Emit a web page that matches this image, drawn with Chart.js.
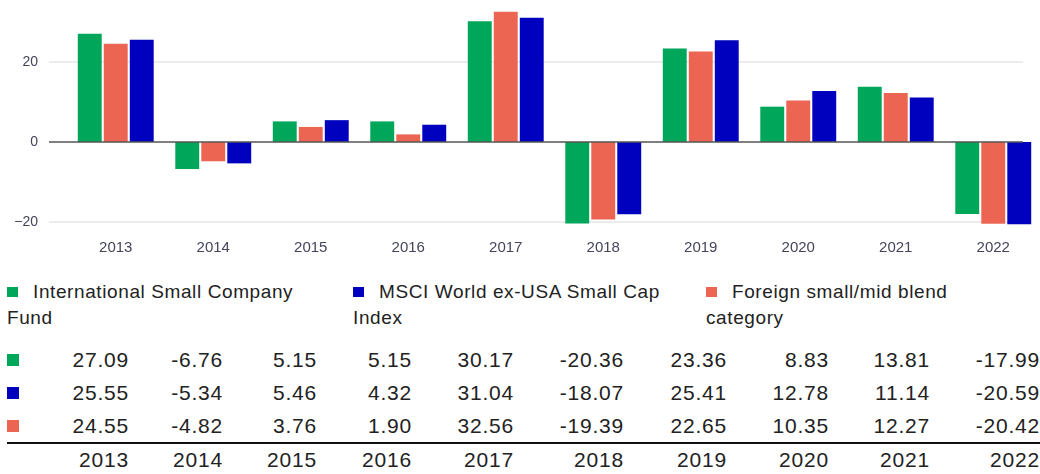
<!DOCTYPE html>
<html>
<head>
<meta charset="utf-8">
<script src="https://cdn.jsdelivr.net/npm/chart.js@4"></script>
<style>
  body { margin: 0; background: #fff; font-family: "Liberation Sans", Arial, sans-serif; color: #222; }
  #page { width: 1040px; height: 474px; overflow: hidden; position: relative; }
  #chartWrap { width: 1060px; height: 262px; position: relative; }
  #legend { position: absolute; left: 0; top: 279px; width: 1040px; height: 56px; font-size: 19px; line-height: 26px; letter-spacing: 0.6px; }
  .item { position: absolute; top: 0; }
  .sw { display: inline-block; width: 11px; height: 10px; margin-right: 15px; vertical-align: 1px; }
  #tbl { position: absolute; left: 7px; top: 343px; border-collapse: collapse; font-size: 21px; letter-spacing: 0.8px; table-layout: fixed; }
  #tbl td { padding: 0; height: 33px; text-align: right; white-space: nowrap; }
  #tbl td.mk { text-align: left; width: 23px; }
  #tbl tr.years td { border-top: 2px solid #111; height: 31px; }
  .mksq { display: inline-block; width: 12px; height: 12px; vertical-align: 1px; }
</style>
</head>
<body>
<div id="page">
  <div id="chartWrap"><canvas id="c"></canvas></div>
  <div id="legend"></div>
  <table id="tbl"></table>
</div>
<script>
const years = ['2013', '2014', '2015', '2016', '2017', '2018', '2019', '2020', '2021', '2022'];
const fundValues = [27.09, -6.76, 5.15, 5.15, 30.17, -20.36, 23.36, 8.83, 13.81, -17.99];
const indexValues = [25.55, -5.34, 5.46, 4.32, 31.04, -18.07, 25.41, 12.78, 11.14, -20.59];
const categoryValues = [24.55, -4.82, 3.76, 1.90, 32.56, -19.39, 22.65, 10.35, 12.27, -20.42];
const yTicks = [-20, 0, 20];

const GREEN = '#00a65a';
const BLUE = '#0000bf';
const SALMON = '#ec6553';

const series = [
    { label: 'International Small Company Fund', color: GREEN, values: fundValues },
    { label: 'MSCI World ex-USA Small Cap Index', color: BLUE, values: indexValues },
    { label: 'Foreign small/mid blend category', color: SALMON, values: categoryValues },
];

// bars are drawn fund, category, index
const barOrder = [series[0], series[2], series[1]];

// gridlines start left of the plot and stop short of its right edge
const gridPlugin = {
    id: 'grid',
    beforeDatasetsDraw(chart) {
        const { ctx, chartArea, scales } = chart;
        ctx.save();
        ctx.lineWidth = 2;
        ctx.strokeStyle = '#ececec';
        for (const v of yTicks) {
            if (v === 0) continue;
            const y = Math.round(scales.y.getPixelForValue(v));
            ctx.beginPath();
            ctx.moveTo(chartArea.left - 18, y);
            ctx.lineTo(chartArea.right - 19, y);
            ctx.stroke();
        }
        ctx.restore();
    },
    afterDatasetsDraw(chart) {
        const { ctx, chartArea, scales } = chart;
        const y = scales.y.getPixelForValue(0);
        ctx.save();
        ctx.lineWidth = 1.5;
        ctx.strokeStyle = '#555';
        ctx.beginPath();
        ctx.moveTo(chartArea.left - 18, y);
        ctx.lineTo(chartArea.right - 19, y);
        ctx.stroke();
        ctx.restore();
    },
};

new Chart(document.getElementById('c'), {
    type: 'bar',
    data: {
        labels: years,
        datasets: barOrder.map(s => ({
            label: s.label,
            data: s.values,
            backgroundColor: s.color,
            categoryPercentage: 0.8,
            barPercentage: 0.92,
        })),
    },
    options: {
        responsive: true,
        maintainAspectRatio: false,
        animation: false,
        layout: { padding: { top: 2, right: 18, left: 0, bottom: 0 } },
        plugins: { legend: { display: false }, tooltip: { enabled: false } },
        scales: {
            x: {
                grid: { display: false, drawTicks: false },
                border: { display: false },
                ticks: { color: '#44455a', font: { family: 'Liberation Sans', size: 15 }, padding: 13, maxRotation: 0 },
                afterFit: s => { s.height = 36; s.paddingLeft = 0; s.paddingRight = 0; },
            },
            y: {
                min: -21,
                max: 35,
                grid: { display: false, drawTicks: false },
                border: { display: false },
                afterBuildTicks: s => { s.ticks = yTicks.map(v => ({ value: v })); },
                ticks: {
                    color: '#44455a',
                    font: { family: 'Liberation Sans', size: 14 },
                    padding: 29,
                    callback: v => (v < 0 ? '\u2212' + Math.abs(v) : String(v)),
                },
                afterFit: s => { s.width = 67; s.paddingTop = 0; s.paddingBottom = 0; },
            },
        },
    },
    plugins: [gridPlugin],
});

// legend
const legendLeft = [7, 353, 706];
const legendWidth = [320, 320, 300];
const legend = document.getElementById('legend');
series.forEach((s, i) => {
    const d = document.createElement('div');
    d.className = 'item';
    d.style.left = legendLeft[i] + 'px';
    d.style.width = legendWidth[i] + 'px';
    d.innerHTML = `<span class="sw" style="background:${s.color}"></span>${s.label}`;
    legend.appendChild(d);
});

// data table
const colWidths = [99, 94, 94, 95, 102, 110, 103, 102, 101, 110];
const tbl = document.getElementById('tbl');
tbl.style.width = (23 + colWidths.reduce((a, b) => a + b, 0)) + 'px';
for (const s of series) {
    const tr = document.createElement('tr');
    tr.innerHTML = `<td class="mk"><span class="mksq" style="background:${s.color}"></span></td>` +
        s.values.map((v, i) => `<td style="width:${colWidths[i]}px">${v.toFixed(2)}</td>`).join('');
    tbl.appendChild(tr);
}
const yr = document.createElement('tr');
yr.className = 'years';
yr.innerHTML = '<td class="mk"></td>' + years.map((y, i) => `<td style="width:${colWidths[i]}px">${y}</td>`).join('');
tbl.appendChild(yr);
</script>
</body>
</html>
